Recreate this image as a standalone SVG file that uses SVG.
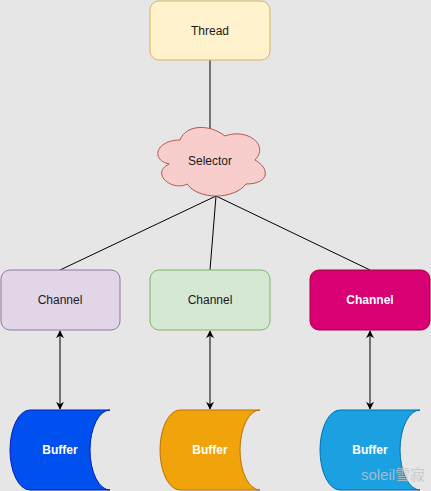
<svg xmlns="http://www.w3.org/2000/svg" width="431" height="491" viewBox="0 0 431 491">
<defs>
<marker id="arr" viewBox="0 0 10 10" refX="9" refY="5" markerWidth="8" markerHeight="8" markerUnits="userSpaceOnUse" orient="auto-start-reverse">
<path d="M0,0 L10,5 L0,10 L3,5 Z" fill="#000"/>
</marker>
</defs>
<style>
.t{font-family:"Liberation Sans",Arial,sans-serif;font-size:12px;fill:#1a1a1a;text-anchor:middle;dominant-baseline:central}
.w{fill:#fff;font-weight:bold}
.e{stroke:#000;stroke-width:1;fill:none}
</style>
<rect width="431" height="491" fill="#E6E6E6"/>
<g id="connectors">
<line class="e" x1="210" y1="60" x2="210" y2="129"/>
<line class="e" x1="216" y1="196" x2="60" y2="270"/>
<line class="e" x1="216" y1="196" x2="210" y2="270"/>
<line class="e" x1="216" y1="196" x2="370" y2="270"/>
<line class="e" x1="60" y1="331" x2="60" y2="409" marker-start="url(#arr)" marker-end="url(#arr)"/>
<line class="e" x1="210" y1="331" x2="210" y2="409" marker-start="url(#arr)" marker-end="url(#arr)"/>
<line class="e" x1="370" y1="331" x2="370" y2="409" marker-start="url(#arr)" marker-end="url(#arr)"/>
</g>
<g id="thread">
<rect x="150" y="1" width="120" height="59" rx="9" fill="#FFF2CC" stroke="#D6B656"/>
<text class="t" x="210" y="31">Thread</text>
</g>
<g id="selector">
<path d="M180,140 C156,140 150,160 169.2,164 C150,172.8 171.6,192 187.2,184 C198,200 234,200 246,184 C270,184 270,168 255,160 C270,144 246,128 225,136 C210,124 186,124 180,140 Z" fill="#F8CECC" stroke="#B85450"/>
<text class="t" x="210" y="161">Selector</text>
</g>
<g id="channel1">
<rect x="1" y="270" width="119" height="60" rx="9" fill="#E1D5E7" stroke="#9673A6"/>
<text class="t" x="60" y="300">Channel</text>
</g>
<g id="channel2">
<rect x="150" y="270" width="120" height="60" rx="9" fill="#D5E8D4" stroke="#82B366"/>
<text class="t" x="210" y="300">Channel</text>
</g>
<g id="channel3">
<rect x="310" y="270" width="120" height="60" rx="9" fill="#D80073" stroke="#A50040"/>
<text class="t w" x="370" y="300">Channel</text>
</g>
<g id="buffer1">
<path d="M30,410 L110,410 A20,40 0 0 0 110,490 L30,490 A20,40 0 0 1 30,410 Z" fill="#0050EF" stroke="#001DBC"/>
<text class="t w" x="60" y="450">Buffer</text>
</g>
<g id="buffer2">
<path d="M180,410 L260,410 A20,40 0 0 0 260,490 L180,490 A20,40 0 0 1 180,410 Z" fill="#F0A30A" stroke="#BD7000"/>
<text class="t w" x="210" y="450">Buffer</text>
</g>
<g id="buffer3">
<path d="M340,410 L420,410 A20,40 0 0 0 420,490 L340,490 A20,40 0 0 1 340,410 Z" fill="#1BA1E2" stroke="#006EAF"/>
<text class="t w" x="370" y="450">Buffer</text>
</g>
<text x="393" y="474" style="font-family:'Liberation Sans','Noto Sans CJK SC',sans-serif;font-size:15px;fill:#c4c4c4;opacity:0.8;text-anchor:middle;dominant-baseline:central">soleil雪寂</text>
</svg>
